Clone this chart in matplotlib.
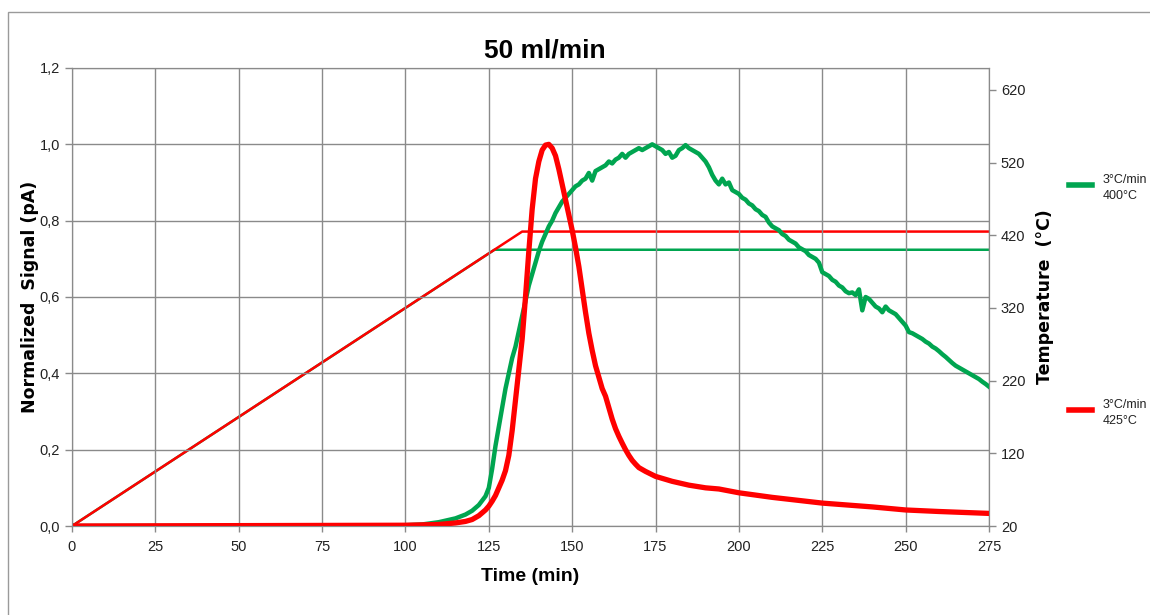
import matplotlib
matplotlib.use("Agg")
import matplotlib.pyplot as plt
from matplotlib.ticker import FuncFormatter, MultipleLocator
from matplotlib.patches import Rectangle
from matplotlib.lines import Line2D

# Normalized signal, 3 C/min to 400 C (green)
time_green = [0, 50, 100, 105, 110, 115, 118, 120, 122, 124, 125, 126, 127, 128, 129,
              130, 131, 132, 133, 134, 135, 136, 137, 138, 139, 140, 141, 142, 143, 144,
              145, 146, 147, 148, 149, 150, 151, 152, 153, 154, 155, 156, 157, 158, 159,
              160, 161, 162, 163, 164, 165, 166, 167, 168, 169, 170, 171, 172, 173, 174,
              175, 176, 177, 178, 179, 180, 181, 182, 183, 184, 185, 186, 187, 188, 189,
              190, 191, 192, 193, 194, 195, 196, 197, 198, 199, 200, 201, 202, 203, 204,
              205, 206, 207, 208, 209, 210, 211, 212, 213, 214, 215, 216, 217, 218, 219,
              220, 221, 222, 223, 224, 225, 226, 227, 228, 229, 230, 231, 232, 233, 234,
              235, 236, 237, 238, 239, 240, 241, 242, 243, 244, 245, 246, 247, 248, 249,
              250, 251, 252, 253, 254, 255, 256, 257, 258, 259, 260, 261, 262, 263, 264,
              265, 266, 267, 268, 269, 270, 271, 272, 273, 274, 275]
signal_green = [0.0, 0.0, 0.002, 0.004, 0.01, 0.02, 0.03, 0.04, 0.055, 0.078, 0.1, 0.15, 0.21, 0.26, 0.31,
                0.36, 0.40, 0.44, 0.47, 0.51, 0.55, 0.59, 0.63, 0.66, 0.69, 0.72, 0.745, 0.765, 0.785, 0.80,
                0.82, 0.835, 0.85, 0.86, 0.87, 0.88, 0.89, 0.895, 0.905, 0.91, 0.925, 0.905, 0.93, 0.935, 0.94,
                0.945, 0.955, 0.95, 0.96, 0.965, 0.975, 0.965, 0.975, 0.98, 0.985, 0.99, 0.985, 0.99, 0.995, 1.0,
                0.995, 0.99, 0.985, 0.975, 0.98, 0.965, 0.97, 0.985, 0.99, 0.998, 0.99, 0.985, 0.98, 0.975, 0.965,
                0.955, 0.94, 0.92, 0.905, 0.895, 0.91, 0.895, 0.9, 0.88, 0.875, 0.87, 0.86, 0.855, 0.845, 0.84,
                0.83, 0.825, 0.815, 0.81, 0.795, 0.785, 0.78, 0.775, 0.765, 0.76, 0.75, 0.745, 0.74, 0.73, 0.725,
                0.72, 0.71, 0.705, 0.70, 0.69, 0.665, 0.66, 0.655, 0.645, 0.64, 0.63, 0.625, 0.615, 0.61, 0.612,
                0.605, 0.62, 0.565, 0.60, 0.595, 0.585, 0.575, 0.57, 0.56, 0.575, 0.565, 0.56, 0.555, 0.545, 0.535,
                0.525, 0.508, 0.505, 0.50, 0.495, 0.49, 0.483, 0.478, 0.47, 0.465, 0.458, 0.45, 0.443, 0.435, 0.427,
                0.42, 0.415, 0.41, 0.405, 0.40, 0.395, 0.39, 0.385, 0.378, 0.372, 0.365]

# Normalized signal, 3 C/min to 425 C (red)
time_red = [0, 100, 105, 110, 115, 118, 120, 122, 124, 125, 126, 127, 128, 129, 130,
            131, 132, 133, 134, 135, 136, 137, 138, 139, 140, 141, 142, 143, 144, 145,
            146, 147, 148, 149, 150, 151, 152, 153, 154, 155, 156, 157, 158, 159, 160,
            161, 162, 163, 164, 165, 166, 167, 168, 169, 170, 172, 175, 180, 185, 190,
            194, 200, 210, 225, 240, 250, 260, 275]
signal_red = [0.0, 0.002, 0.003, 0.004, 0.008, 0.012, 0.017, 0.027, 0.042, 0.052, 0.065, 0.08, 0.10, 0.12, 0.145,
              0.185, 0.25, 0.33, 0.41, 0.49, 0.60, 0.72, 0.83, 0.91, 0.955, 0.985, 0.998, 1.0, 0.99, 0.97,
              0.935, 0.895, 0.855, 0.815, 0.775, 0.73, 0.68, 0.62, 0.56, 0.505, 0.46, 0.42, 0.39, 0.36, 0.34,
              0.31, 0.28, 0.255, 0.235, 0.217, 0.20, 0.185, 0.172, 0.162, 0.153, 0.143, 0.13, 0.117, 0.107, 0.10,
              0.097, 0.087, 0.075, 0.06, 0.05, 0.042, 0.038, 0.033]

# Temperature programs (right axis)
ramp_time_green = [0, 126.7, 275]
ramp_temp_green = [20, 400, 400]
ramp_time_red = [0, 135, 275]
ramp_temp_red = [20, 425, 425]

legend_labels = ["3°C/min\n400°C", "3°C/min\n425°C"]

GREEN = "#00a550"
RED = "#ff0000"
GRID = "#8a8a8a"
SANS = ["Liberation Sans", "DejaVu Sans"]

fig = plt.figure(figsize=(11.5, 6.15), dpi=100)
fig.patches.append(Rectangle((8 / 1150, -0.1), 1.2, (615 - 12) / 615 + 0.1,
                             transform=fig.transFigure, fill=False,
                             edgecolor="#9a9a9a", lw=1.0))

ax = fig.add_axes([72 / 1150, 1 - 526 / 615, (989 - 72) / 1150, (526 - 68) / 615])
ax2 = ax.twinx()
ax.set_zorder(ax2.get_zorder() + 1)
ax.patch.set_visible(False)

# temperature lines (behind)
ax2.plot(ramp_time_green, ramp_temp_green, color=GREEN, lw=1.8)
ax2.plot(ramp_time_red, ramp_temp_red, color=RED, lw=1.8)
ax2.set_ylim(20, 650)
ax2.set_yticks(range(20, 621, 100))

# signals
ax.plot(time_green, signal_green, color=GREEN, lw=3.2, solid_joinstyle="round")
ax.plot(time_red, signal_red, color=RED, lw=3.8, solid_joinstyle="round")

ax.set_xlim(0, 275)
ax.set_ylim(0, 1.2)
ax.xaxis.set_major_locator(MultipleLocator(25))
ax.yaxis.set_major_locator(MultipleLocator(0.2))
ax.yaxis.set_major_formatter(FuncFormatter(lambda v, p: f"{v:.1f}".replace(".", ",")))
ax.grid(True, color=GRID, lw=1.0)
ax.set_axisbelow(True)

for a in (ax, ax2):
    for s in a.spines.values():
        s.set_color(GRID)
    a.tick_params(colors=GRID, length=5, width=1)
    for lbl in a.get_xticklabels() + a.get_yticklabels():
        lbl.set_family(SANS)
        lbl.set_fontsize(10.5)
        lbl.set_color("#222222")
ax.tick_params(axis="x", length=4, pad=6)

ax.set_xlabel("Time (min)", family=SANS, fontsize=14, fontweight="bold", labelpad=10)
ax.set_ylabel("Normalized  Signal (pA)", fontsize=12.5, fontweight="bold")
ax.yaxis.set_label_coords(-0.036, 0.5)
ax2.set_ylabel("Temperature  (°C)", fontsize=12.5, fontweight="bold", labelpad=8)

fig.text(545 / 1150, 1 - 50 / 615, "50 ml/min", family=SANS, fontsize=19,
         fontweight="bold", ha="center", va="center")

# legend entries on the right
for color, label, yc in [(GREEN, legend_labels[0], 185), (RED, legend_labels[1], 410)]:
    fig.add_artist(Line2D([1069 / 1150, 1092 / 1150], [1 - yc / 615] * 2,
                          color=color, lw=4, transform=fig.transFigure))
    fig.text(1103 / 1150, 1 - (yc + 3) / 615, label, family=SANS, fontsize=9,
             ha="left", va="center", linespacing=1.5, color="#222222")

fig.savefig("out.png", dpi=100)
